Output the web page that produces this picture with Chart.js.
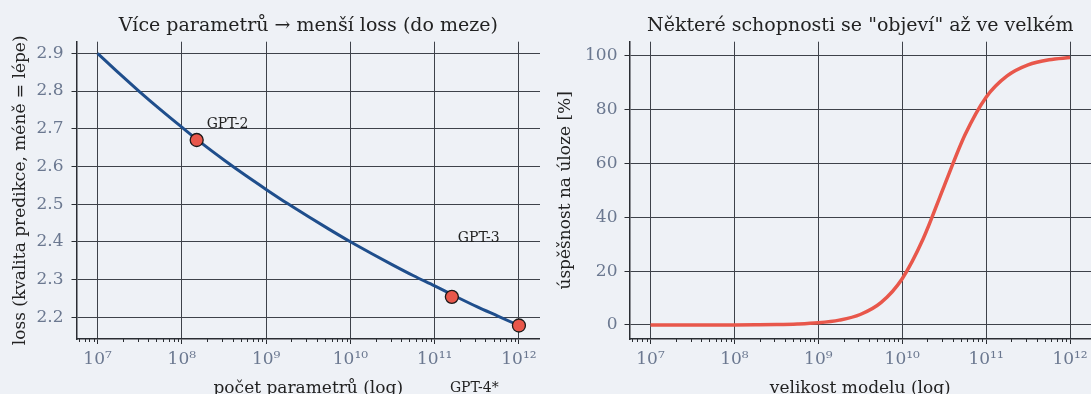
<!DOCTYPE html>
<html>
<head>
<meta charset="utf-8">
<script src="https://cdn.jsdelivr.net/npm/chart.js@4.4.1/dist/chart.umd.min.js"></script>
<style>
  html, body { margin: 0; padding: 0; background: #eef1f6; overflow: hidden; width: 1091px; height: 394px; }
  canvas { position: absolute; top: 0; }
  #lossChart { left: 0; }
  #emergeChart { left: 545px; }
</style>
</head>
<body>
<canvas id="lossChart" width="540" height="402"></canvas>
<canvas id="emergeChart" width="546" height="402"></canvas>
<script>
// velikost modelu jako exponent (10^x), odečteno po čtvrtinách dekády
const sizeExp = [7, 7.25, 7.5, 7.75, 8, 8.25, 8.5, 8.75, 9, 9.25, 9.5, 9.75, 10, 10.25, 10.5, 10.75, 11, 11.25, 11.5, 11.75, 12];
const lossValues = [2.900, 2.848, 2.798, 2.750, 2.704, 2.659, 2.617, 2.577, 2.539, 2.502, 2.467, 2.433, 2.400, 2.369, 2.339, 2.310, 2.283, 2.255, 2.228, 2.203, 2.178];
const emergeValues = [0.0, 0.0, 0.0, 0.01, 0.03, 0.07, 0.15, 0.35, 0.8, 1.8, 3.9, 8.4, 17.2, 32.0, 51.6, 70.7, 84.6, 92.5, 96.6, 98.5, 99.3];

const modelNames = ["GPT-2", "GPT-3", "GPT-4*"];
const modelParams = [1.5e8, 1.6e11, 1e12];
const modelLoss = [2.67, 2.254, 2.178];

const xTickValues = [1e7, 1e8, 1e9, 1e10, 1e11, 1e12];
const xTickLabels = ["10⁷", "10⁸", "10⁹", "10¹⁰", "10¹¹", "10¹²"];
const lossTicks = [2.2, 2.3, 2.4, 2.5, 2.6, 2.7, 2.8, 2.9];
const lossTickLabels = ["2.2", "2.3", "2.4", "2.5", "2.6", "2.7", "2.8", "2.9"];
const pctTicks = [0, 20, 40, 60, 80, 100];
const pctTickLabels = ["0", "20", "40", "60", "80", "100"];

const FONT = "'DejaVu Serif', serif";
const gridColor = "#3e424a";
const spineColor = "#2a2d33";
const tickColor = "#6b7890";
const textColor = "#222222";

// malé vedlejší tiky na logaritmické ose
const minorTicks = {
  id: "minorTicks",
  afterDraw(chart) {
    const s = chart.scales.x;
    const ctx = chart.ctx;
    ctx.save();
    ctx.strokeStyle = spineColor;
    ctx.lineWidth = 1;
    for (let d = 6; d <= 12; d++) {
      for (let m = 2; m <= 9; m++) {
        const v = m * Math.pow(10, d);
        if (v < s.min || v > s.max) continue;
        const x = Math.round(s.getPixelForValue(v)) + 0.5;
        ctx.beginPath();
        ctx.moveTo(x, s.top);
        ctx.lineTo(x, s.top + 3);
        ctx.stroke();
      }
    }
    ctx.restore();
  }
};

// popisky modelů u bodů
const labelOffsets = [[10, -12], [6, -55], [-69, 66]];
const modelLabels = {
  id: "modelLabels",
  afterDatasetsDraw(chart) {
    const meta = chart.getDatasetMeta(1);
    const ctx = chart.ctx;
    ctx.save();
    ctx.font = "14px " + FONT;
    ctx.fillStyle = textColor;
    ctx.textAlign = "left";
    ctx.textBaseline = "alphabetic";
    meta.data.forEach((pt, i) => {
      ctx.fillText(modelNames[i], pt.x + labelOffsets[i][0], pt.y + labelOffsets[i][1]);
    });
    ctx.restore();
  }
};

function xScale(title) {
  return {
    type: "logarithmic",
    min: Math.pow(10, 6.75),
    max: Math.pow(10, 12.25),
    afterBuildTicks: s => { s.ticks = xTickValues.map(v => ({ value: v })); },
    afterFit: s => { s.height = 63; s.paddingLeft = 0; s.paddingRight = 0; },
    ticks: {
      autoSkip: false, maxRotation: 0, padding: 5.3, color: tickColor,
      font: { family: FONT, size: 17 },
      callback: (v, i) => xTickLabels[i]
    },
    grid: { color: gridColor, lineWidth: 1, drawTicks: true, tickLength: 5, tickColor: spineColor },
    border: { display: true, color: spineColor, width: 1.5 },
    title: { display: true, text: title, color: textColor, font: { family: FONT, size: 17 }, padding: { top: 0, bottom: 2.8 } }
  };
}

function yScale(min, max, ticks, labels, title, width, pad) {
  return {
    type: "linear",
    min: min,
    max: max,
    afterBuildTicks: s => { s.ticks = ticks.map(v => ({ value: v })); },
    afterFit: s => { s.width = width; s.paddingTop = 0; s.paddingBottom = 0; },
    ticks: {
      padding: pad, color: tickColor,
      font: { family: FONT, size: 17 },
      callback: (v, i) => labels[i]
    },
    grid: { color: gridColor, lineWidth: 1, drawTicks: true, tickLength: 5, tickColor: spineColor },
    border: { display: true, color: spineColor, width: 1.5 },
    title: { display: true, text: title, color: textColor, font: { family: FONT, size: 17 }, padding: { top: 10.8, bottom: 0 } }
  };
}

function titleOpts(text) {
  return {
    display: true, text: text, fullSize: false, color: textColor,
    font: { family: FONT, size: 19, weight: "normal" },
    padding: { top: 14.5, bottom: 4.4 }
  };
}

new Chart(document.getElementById("lossChart"), {
  type: "line",
  data: {
    datasets: [{
      data: sizeExp.map((e, i) => ({ x: Math.pow(10, e), y: lossValues[i] })),
      borderColor: "#1f4e8c",
      borderWidth: 3,
      pointRadius: 0,
      cubicInterpolationMode: "monotone",
      order: 2
    }, {
      data: modelParams.map((p, i) => ({ x: p, y: modelLoss[i] })),
      showLine: false,
      pointRadius: 6.5,
      pointBackgroundColor: "#e8574b",
      pointBorderColor: "#1a1a1a",
      pointBorderWidth: 1.3,
      order: 1
    }]
  },
  options: {
    responsive: false,
    animation: false,
    events: [],
    layout: { padding: 0, autoPadding: false },
    plugins: {
      legend: { display: false },
      tooltip: { enabled: false },
      title: titleOpts("Více parametrů → menší loss (do meze)")
    },
    scales: {
      x: xScale("počet parametrů (log)"),
      y: yScale(2.1422, 2.9308, lossTicks, lossTickLabels, "loss (kvalita predikce, méně = lépe)", 76.5, 8)
    }
  },
  plugins: [minorTicks, modelLabels]
});

new Chart(document.getElementById("emergeChart"), {
  type: "line",
  data: {
    datasets: [{
      data: sizeExp.map((e, i) => ({ x: Math.pow(10, e), y: emergeValues[i] })),
      borderColor: "#e8574b",
      borderWidth: 3.5,
      pointRadius: 0,
      cubicInterpolationMode: "monotone"
    }]
  },
  options: {
    responsive: false,
    animation: false,
    events: [],
    layout: { padding: 0, autoPadding: false },
    plugins: {
      legend: { display: false },
      tooltip: { enabled: false },
      title: titleOpts('Některé schopnosti se "objeví" až ve velkém')
    },
    scales: {
      x: xScale("velikost modelu (log)"),
      y: yScale(-5.2, 105.2, pctTicks, pctTickLabels, "úspěšnost na úloze [%]", 84.5, 7)
    }
  },
  plugins: [minorTicks]
});
</script>
</body>
</html>
